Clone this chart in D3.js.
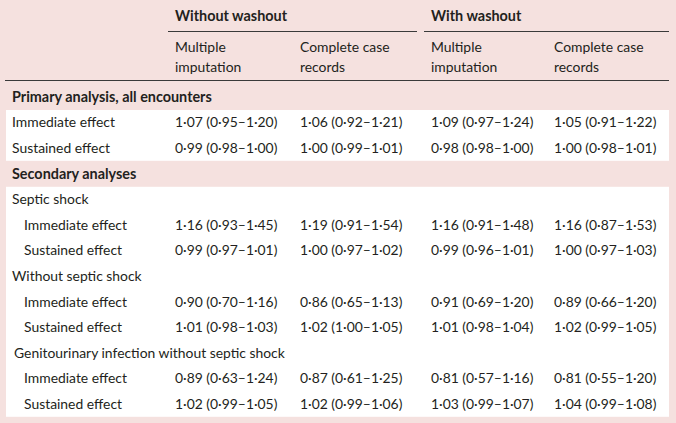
<!DOCTYPE html>
<html><head><meta charset="utf-8">
<script src="https://cdn.jsdelivr.net/npm/d3@7"></script>
<style>
html,body{margin:0;padding:0;background:#f5e1df;}
svg{display:block;font-family:Lato,"Open Sans",sans-serif;}
</style></head>
<body><svg id="c" width="676" height="423"></svg>
<script>
// ---- data ----
const groupHeaders = ["Without washout", "With washout"];
const subHeaders = [["Multiple", "imputation"], ["Complete case", "records"], ["Multiple", "imputation"], ["Complete case", "records"]];
const rowLabels = ["Primary analysis, all encounters", "Immediate effect", "Sustained effect", "Secondary analyses", "Septic shock", "Immediate effect", "Sustained effect", "Without septic shock", "Immediate effect", "Sustained effect", "Genitourinary infection without septic shock", "Immediate effect", "Sustained effect"];
const rowKinds = ["section", "data", "data", "section", "sub", "idata", "idata", "sub", "idata", "idata", "sub", "idata", "idata"];
// estimates [est, lower, upper] for each data row (8 rows)
const withoutMI = [[1.07,0.95,1.20],[0.99,0.98,1.00],[1.16,0.93,1.45],[0.99,0.97,1.01],[0.90,0.70,1.16],[1.01,0.98,1.03],[0.89,0.63,1.24],[1.02,0.99,1.05]];
const withoutCC = [[1.06,0.92,1.21],[1.00,0.99,1.01],[1.19,0.91,1.54],[1.00,0.97,1.02],[0.86,0.65,1.13],[1.02,1.00,1.05],[0.87,0.61,1.25],[1.02,0.99,1.06]];
const withMI = [[1.09,0.97,1.24],[0.98,0.98,1.00],[1.16,0.91,1.48],[0.99,0.96,1.01],[0.91,0.69,1.20],[1.01,0.98,1.04],[0.81,0.57,1.16],[1.03,0.99,1.07]];
const withCC = [[1.05,0.91,1.22],[1.00,0.98,1.01],[1.16,0.87,1.53],[1.00,0.97,1.03],[0.89,0.66,1.20],[1.02,0.99,1.05],[0.81,0.55,1.20],[1.04,0.99,1.08]];
const columns = [withoutMI, withoutCC, withMI, withCC];

// ---- layout ----
const svg = d3.select("#c");
const ink = "#231f20";
const fs = 13.9;
const fsb = 14.4;
const colX = d3.scaleOrdinal().domain([0,1,2,3]).range([175, 300, 431, 554]);
const rowY = d3.scaleLinear().domain([0, 12]).range([97, 404.2]);
const fmt = v => d3.format(".2f")(v).replace(".", "\u00b7");
const cell = t => `${fmt(t[0])} (${fmt(t[1])}\u2013${fmt(t[2])})`;

// white panels
const half = 12.6;
[[1,2],[4,12]].forEach(([a,b]) => {
  svg.append("rect").attr("x", 6).attr("width", 663)
    .attr("y", rowY(a) - half).attr("height", rowY(b) - rowY(a) + 2*half)
    .attr("fill", "#ffffff");
});

// header
svg.selectAll("text.gh").data(groupHeaders).join("text")
  .attr("x", (d,i) => colX(i*2)).attr("y", 16).attr("dy", "0.35em")
  .attr("font-weight", 700).attr("font-size", fsb).attr("fill", ink).text(d => d);
[[168, 417], [424, 669]].forEach(([x1,x2]) => {
  svg.append("line").attr("x1", x1).attr("x2", x2).attr("y1", 31.5).attr("y2", 31.5)
    .attr("stroke", "#3a3a3a").attr("stroke-width", 1);
});
subHeaders.forEach((lines, i) => {
  lines.forEach((t, j) => {
    svg.append("text").attr("x", colX(i)).attr("y", 47 + j*20).attr("dy", "0.35em")
      .attr("font-size", fs).attr("fill", ink).text(t);
  });
});
svg.append("line").attr("x1", 5).attr("x2", 669).attr("y1", 80.5).attr("y2", 80.5)
  .attr("stroke", "#3a3a3a").attr("stroke-width", 1);

// row labels
svg.selectAll("text.rl").data(rowLabels).join("text")
  .attr("x", (d,i) => rowKinds[i] === "idata" ? 24 : (i === 10 ? 14 : 12))
  .attr("y", (d,i) => rowY(i)).attr("dy", "0.35em")
  .attr("font-weight", (d,i) => rowKinds[i] === "section" ? 700 : 400)
  .attr("font-size", (d,i) => rowKinds[i] === "section" ? fsb : fs).attr("fill", ink).text(d => d);

// data cells
const dataRows = rowKinds.map((k,i) => i).filter(i => rowKinds[i] === "data" || rowKinds[i] === "idata");
columns.forEach((col, c) => {
  svg.selectAll(null).data(col).join("text")
    .attr("x", colX(c)).attr("y", (d,k) => rowY(dataRows[k])).attr("dy", "0.35em")
    .attr("font-size", fs).attr("fill", ink).text(d => cell(d));
});
</script></body></html>
